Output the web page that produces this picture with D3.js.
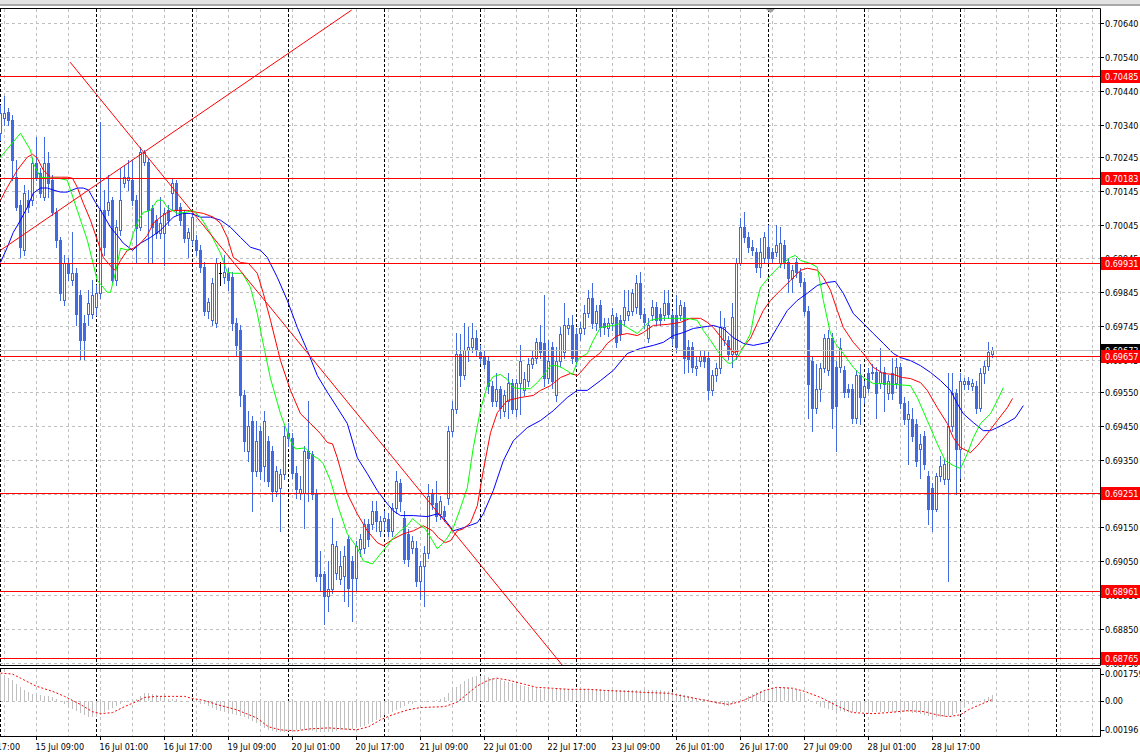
<!DOCTYPE html>
<html><head><meta charset="utf-8">
<script src="https://cdn.jsdelivr.net/npm/d3@7/dist/d3.min.js"></script>
<style>
html,body{margin:0;padding:0;background:#fff;}
svg{display:block;}
text{font-family:"DejaVu Sans Condensed","Liberation Sans",Arial,sans-serif;font-size:9px;}
</style></head><body>
<svg id="chart" width="1140" height="756"></svg>
<script>
// ---------------- DATA (H1 bars, bar 0 = 15 Jul 00:00) ----------------
const opens=[0.70315,0.70360,0.70377,0.70354,0.70185,0.70102,0.69969,0.70117,0.70117,0.70226,
0.70197,0.70126,0.70226,0.70176,0.70081,0.69999,0.69821,0.69930,0.69880,0.69901,
0.69836,0.69753,0.69782,0.69782,0.69800,0.69842,0.70087,0.70087,0.70117,0.69880,
0.70028,0.70167,0.70176,0.70176,0.70117,0.70037,0.70229,0.70229,0.70093,0.70058,
0.70019,0.70019,0.70087,0.70138,0.70167,0.70096,0.70078,0.70004,0.69999,0.69999,
0.69969,0.69919,0.69791,0.69762,0.69753,0.69901,0.69889,0.69901,0.69889,0.69753,
0.69732,0.69540,0.69377,0.69466,0.69318,0.69436,0.69333,0.69406,0.69377,0.69259,
0.69267,0.69309,0.69430,0.69415,0.69312,0.69253,0.69253,0.69377,0.69368,0.69253,
0.69013,0.69013,0.68948,0.68968,0.69016,0.68998,0.69007,0.69116,0.69051,0.69001,
0.69087,0.69090,0.69161,0.69161,0.69199,0.69140,0.69170,0.69176,0.69140,0.69208,
0.69282,0.69179,0.69131,0.69090,0.69090,0.68992,0.69037,0.69075,0.69250,0.69223,
0.69190,0.69199,0.69238,0.69436,0.69501,0.69664,0.69599,0.69673,0.69682,0.69711,
0.69667,0.69658,0.69643,0.69569,0.69525,0.69560,0.69495,0.69525,0.69578,0.69501,
0.69578,0.69555,0.69584,0.69634,0.69652,0.69697,0.69694,0.69593,0.69682,0.69540,
0.69643,0.69667,0.69738,0.69747,0.69723,0.69726,0.69738,0.69785,0.69827,0.69753,
0.69806,0.69753,0.69738,0.69753,0.69771,0.69762,0.69762,0.69777,0.69791,0.69800,
0.69871,0.69782,0.69711,0.69777,0.69800,0.69782,0.69777,0.69812,0.69777,0.69777,
0.69777,0.69800,0.69682,0.69682,0.69620,0.69643,0.69658,0.69652,0.69555,0.69599,
0.69620,0.69703,0.69703,0.69664,0.69664,0.69930,0.70037,0.70007,0.69978,0.69963,
0.69919,0.69945,0.69978,0.69963,0.69963,0.69930,0.69984,0.69933,0.69886,0.69933,
0.69904,0.69874,0.69791,0.69643,0.69504,0.69560,0.69620,0.69614,0.69711,0.69623,
0.69623,0.69614,0.69560,0.69560,0.69474,0.69599,0.69534,0.69605,0.69605,0.69608,
0.69578,0.69608,0.69546,0.69605,0.69578,0.69623,0.69519,0.69471,0.69471,0.69457,
0.69382,0.69421,0.69303,0.69267,0.69205,0.69303,0.69294,0.69294,0.69451,0.69546,
0.69382,0.69575,0.69584,0.69569,0.69569,0.69504,0.69605,0.69628,0.69664];
const highs=[0.70398,0.70425,0.70389,0.70369,0.70235,0.70117,0.70161,0.70147,0.70241,0.70303,
0.70212,0.70303,0.70259,0.70191,0.70093,0.70007,0.69954,0.69945,0.70022,0.69916,
0.69851,0.69777,0.69851,0.69880,0.69865,0.70348,0.70147,0.70191,0.70126,0.70058,
0.70212,0.70221,0.70235,0.70235,0.70132,0.70274,0.70265,0.70241,0.70102,0.70073,
0.70126,0.70093,0.70102,0.70182,0.70176,0.70108,0.70087,0.70034,0.70078,0.70013,
0.69984,0.69933,0.69827,0.69886,0.69945,0.69933,0.69954,0.69916,0.69904,0.69768,
0.69747,0.69555,0.69495,0.69480,0.69466,0.69451,0.69495,0.69421,0.69391,0.69333,
0.69324,0.69451,0.69460,0.69430,0.69333,0.69303,0.69391,0.69525,0.69377,0.69264,
0.69081,0.69022,0.69051,0.69179,0.69111,0.69081,0.69096,0.69125,0.69066,0.69111,
0.69131,0.69176,0.69176,0.69229,0.69229,0.69185,0.69199,0.69193,0.69223,0.69318,
0.69294,0.69199,0.69146,0.69125,0.69111,0.69051,0.69096,0.69279,0.69264,0.69288,
0.69244,0.69214,0.69451,0.69525,0.69726,0.69723,0.69753,0.69741,0.69753,0.69732,
0.69688,0.69673,0.69658,0.69584,0.69605,0.69569,0.69555,0.69605,0.69590,0.69590,
0.69688,0.69608,0.69652,0.69673,0.69711,0.69747,0.69836,0.69703,0.69697,0.69682,
0.69741,0.69812,0.69768,0.69777,0.69738,0.69756,0.69806,0.69851,0.69871,0.69806,
0.69821,0.69768,0.69768,0.69797,0.69785,0.69777,0.69851,0.69851,0.69856,0.69895,
0.69904,0.69797,0.69768,0.69821,0.69815,0.69797,0.69851,0.69851,0.69791,0.69836,
0.69821,0.69815,0.69703,0.69697,0.69658,0.69673,0.69673,0.69667,0.69614,0.69637,
0.69791,0.69768,0.69717,0.69812,0.69945,0.70064,0.70081,0.70022,0.69999,0.69975,
0.70004,0.70022,0.70043,0.69975,0.70043,0.70037,0.69999,0.69945,0.69925,0.69945,
0.69916,0.69886,0.69803,0.69658,0.69634,0.69637,0.69723,0.69732,0.69726,0.69643,
0.69711,0.69628,0.69575,0.69575,0.69614,0.69634,0.69584,0.69620,0.69634,0.69623,
0.69679,0.69623,0.69599,0.69652,0.69652,0.69637,0.69534,0.69525,0.69504,0.69471,
0.69427,0.69436,0.69318,0.69282,0.69312,0.69362,0.69353,0.69605,0.69605,0.69560,
0.69605,0.69593,0.69596,0.69590,0.69584,0.69620,0.69643,0.69697,0.69682];
const lows=[0.70295,0.70339,0.70339,0.70176,0.70087,0.69948,0.69954,0.70081,0.70102,0.70176,
0.70126,0.70117,0.70126,0.70073,0.69978,0.69821,0.69806,0.69880,0.69865,0.69747,
0.69649,0.69649,0.69747,0.69768,0.69777,0.69827,0.69954,0.70073,0.69874,0.69865,
0.70013,0.70155,0.70147,0.70102,0.69933,0.70028,0.70221,0.69930,0.69930,0.70004,
0.70004,0.69925,0.70043,0.70087,0.70073,0.70043,0.69993,0.69948,0.69984,0.69954,
0.69904,0.69777,0.69768,0.69747,0.69741,0.69865,0.69871,0.69851,0.69732,0.69658,
0.69510,0.69377,0.69347,0.69199,0.69303,0.69294,0.69288,0.69273,0.69229,0.69244,
0.69140,0.69294,0.69391,0.69297,0.69238,0.69235,0.69149,0.69229,0.69235,0.68992,
0.68962,0.68865,0.68903,0.68957,0.68998,0.68983,0.68933,0.68918,0.68874,0.68962,
0.69066,0.69075,0.69096,0.69146,0.69140,0.69125,0.69146,0.69125,0.69125,0.69193,
0.69199,0.69045,0.69037,0.69075,0.68977,0.68939,0.68918,0.69060,0.69205,0.69170,
0.69176,0.69170,0.69220,0.69421,0.69489,0.69569,0.69590,0.69643,0.69667,0.69658,
0.69637,0.69620,0.69546,0.69510,0.69510,0.69474,0.69480,0.69474,0.69489,0.69480,
0.69486,0.69540,0.69569,0.69620,0.69637,0.69652,0.69569,0.69578,0.69563,0.69525,
0.69628,0.69652,0.69723,0.69637,0.69628,0.69703,0.69723,0.69771,0.69738,0.69732,
0.69717,0.69723,0.69717,0.69732,0.69682,0.69703,0.69747,0.69762,0.69777,0.69785,
0.69768,0.69738,0.69697,0.69762,0.69747,0.69747,0.69762,0.69768,0.69688,0.69667,
0.69762,0.69605,0.69608,0.69608,0.69599,0.69628,0.69623,0.69531,0.69540,0.69584,
0.69605,0.69688,0.69649,0.69623,0.69649,0.69925,0.69993,0.69963,0.69954,0.69904,
0.69889,0.69933,0.69933,0.69930,0.69951,0.69919,0.69916,0.69845,0.69845,0.69889,
0.69862,0.69777,0.69474,0.69436,0.69489,0.69525,0.69608,0.69599,0.69445,0.69377,
0.69608,0.69534,0.69534,0.69460,0.69460,0.69457,0.69519,0.69549,0.69590,0.69474,
0.69563,0.69495,0.69531,0.69531,0.69563,0.69504,0.69457,0.69338,0.69406,0.69333,
0.69297,0.69324,0.69161,0.69140,0.69199,0.69288,0.69279,0.68992,0.69436,0.69250,
0.69297,0.69560,0.69560,0.69555,0.69489,0.69495,0.69578,0.69614,0.69655];
const closes=[0.70374,0.70374,0.70354,0.70235,0.70096,0.69978,0.70138,0.70096,0.70226,0.70185,
0.70138,0.70226,0.70167,0.70081,0.69999,0.69842,0.69930,0.69901,0.69901,0.69782,
0.69703,0.69703,0.69812,0.69836,0.69842,0.70087,0.69978,0.70111,0.69880,0.70037,
0.70117,0.70185,0.70185,0.70117,0.70034,0.70259,0.70259,0.70087,0.70037,0.70019,
0.70049,0.70078,0.70058,0.70167,0.70087,0.70058,0.70004,0.70022,0.70067,0.69969,
0.69919,0.69791,0.69815,0.69871,0.69930,0.69901,0.69904,0.69880,0.69753,0.69688,
0.69540,0.69406,0.69451,0.69318,0.69406,0.69318,0.69466,0.69288,0.69259,0.69318,
0.69309,0.69421,0.69415,0.69312,0.69264,0.69264,0.69377,0.69356,0.69250,0.69007,
0.69007,0.68948,0.68968,0.69102,0.69096,0.69037,0.69066,0.68971,0.69001,0.69096,
0.69116,0.69161,0.69116,0.69199,0.69170,0.69170,0.69179,0.69140,0.69208,0.69288,
0.69229,0.69057,0.69057,0.69111,0.68992,0.69037,0.69075,0.69244,0.69220,0.69185,
0.69229,0.69185,0.69436,0.69501,0.69664,0.69599,0.69673,0.69682,0.69711,0.69673,
0.69652,0.69634,0.69569,0.69525,0.69560,0.69504,0.69540,0.69578,0.69501,0.69578,
0.69643,0.69590,0.69634,0.69652,0.69697,0.69667,0.69593,0.69643,0.69584,0.69643,
0.69723,0.69747,0.69747,0.69652,0.69643,0.69738,0.69785,0.69827,0.69753,0.69791,
0.69741,0.69741,0.69753,0.69777,0.69697,0.69723,0.69800,0.69791,0.69842,0.69871,
0.69782,0.69756,0.69747,0.69800,0.69762,0.69762,0.69812,0.69782,0.69711,0.69682,
0.69806,0.69652,0.69649,0.69623,0.69628,0.69658,0.69643,0.69555,0.69599,0.69620,
0.69741,0.69741,0.69664,0.69771,0.69930,0.70037,0.70007,0.69978,0.69969,0.69919,
0.69963,0.70007,0.69945,0.69945,0.69984,0.69990,0.69930,0.69886,0.69910,0.69904,
0.69874,0.69791,0.69575,0.69504,0.69560,0.69620,0.69711,0.69711,0.69504,0.69510,
0.69679,0.69549,0.69549,0.69474,0.69599,0.69534,0.69569,0.69563,0.69608,0.69546,
0.69608,0.69575,0.69584,0.69546,0.69623,0.69519,0.69471,0.69486,0.69421,0.69347,
0.69397,0.69338,0.69205,0.69205,0.69303,0.69333,0.69338,0.69451,0.69546,0.69382,
0.69584,0.69584,0.69575,0.69578,0.69504,0.69605,0.69628,0.69667,0.69673];

// Alligator-style moving averages, read as [bar, price]
const lipsGreen=[[0,0.70244],[5,0.70315],[7.5,0.70265],[8.2,0.70226],[10,0.70185],[12.5,0.70182],[14.5,0.70182],[16.7,0.70176],[17.5,0.70147],[19.2,0.70087],[21.7,0.69999],[24.2,0.69880],[26.7,0.69845],[27.5,0.69845],[28.7,0.69901],[30,0.69975],[32,0.69969],[33.2,0.70019],[34.5,0.70058],[35.7,0.70081],[37.5,0.70087],[39.2,0.70117],[40.5,0.70117],[41.7,0.70096],[44.2,0.70078],[46.2,0.70081],[48,0.70087],[50,0.70067],[52.5,0.70019],[55,0.69960],[56.7,0.69904],[58.2,0.69901],[60.5,0.69901],[62.5,0.69859],[64.2,0.69782],[65.5,0.69703],[67.5,0.69590],[70,0.69486],[72.5,0.69406],[73.7,0.69382],[76.2,0.69385],[78,0.69362],[79.5,0.69353],[80.7,0.69338],[82.5,0.69288],[84.5,0.69208],[86.7,0.69131],[89.2,0.69090],[90.7,0.69051],[93,0.69042],[95,0.69072],[96.7,0.69096],[98.2,0.69119],[100,0.69140],[101.7,0.69155],[103,0.69176],[104.5,0.69161],[106.2,0.69146],[108,0.69111],[109.2,0.69087],[110.5,0.69102],[111.7,0.69119],[113.2,0.69149],[115,0.69208],[116.7,0.69267],[118.2,0.69386],[120,0.69498],[121.7,0.69569],[123.2,0.69596],[125,0.69602],[126.7,0.69587],[128.2,0.69563],[130,0.69560],[132.5,0.69560],[134.2,0.69578],[135.7,0.69599],[137.5,0.69628],[139.2,0.69628],[140.7,0.69620],[143,0.69602],[144.5,0.69649],[146.7,0.69664],[148.2,0.69703],[150,0.69741],[153.2,0.69747],[155,0.69753],[156.7,0.69741],[159.2,0.69723],[160.7,0.69741],[162.5,0.69762],[165,0.69768],[168.2,0.69768],[171.7,0.69768],[174.2,0.69762],[175.7,0.69732],[177.5,0.69703],[179.5,0.69667],[181.7,0.69637],[182.5,0.69634],[184.2,0.69652],[185.7,0.69682],[187.5,0.69723],[188.7,0.69800],[190,0.69859],[192.5,0.69895],[195,0.69925],[197.5,0.69948],[198.7,0.69954],[200,0.69939],[202.5,0.69930],[204.2,0.69919],[205.7,0.69821],[207.5,0.69723],[208.7,0.69694],[210.7,0.69664],[213.2,0.69623],[215.7,0.69593],[218.2,0.69575],[220.7,0.69575],[224.2,0.69572],[227.5,0.69569],[229.2,0.69534],[231.7,0.69466],[234.2,0.69397],[236.2,0.69347],[238.2,0.69333],[240,0.69324],[241.7,0.69368],[243.2,0.69415],[245,0.69457],[247.5,0.69486],[249.2,0.69525],[250.7,0.69563]];
const teethRed=[[0,0.70117],[1.7,0.70155],[4.2,0.70206],[6.7,0.70244],[8,0.70253],[9.2,0.70241],[10.7,0.70206],[12.5,0.70185],[15,0.70185],[16.7,0.70185],[18,0.70182],[19.2,0.70155],[20.7,0.70108],[22.5,0.70058],[24.2,0.69999],[25.7,0.69948],[28,0.69916],[28.7,0.69910],[30,0.69939],[31.7,0.69969],[33.2,0.69975],[35,0.69990],[36.7,0.70013],[38.2,0.70049],[40,0.70067],[41.7,0.70081],[43.2,0.70087],[46.7,0.70087],[49.2,0.70081],[50.7,0.70078],[53.2,0.70067],[55,0.70049],[56.7,0.70007],[58.2,0.69948],[60,0.69933],[62,0.69930],[64.2,0.69901],[65.7,0.69842],[67.5,0.69762],[70,0.69643],[72.5,0.69555],[75,0.69486],[77.5,0.69457],[80,0.69427],[81.7,0.69401],[83,0.69397],[84.2,0.69356],[86.7,0.69250],[89.2,0.69190],[91.7,0.69140],[94.2,0.69105],[95.7,0.69096],[98.2,0.69116],[100.7,0.69131],[103.2,0.69140],[105.7,0.69155],[108,0.69140],[109.5,0.69119],[111.2,0.69105],[112.5,0.69111],[114.2,0.69140],[115.7,0.69146],[117.5,0.69164],[119.2,0.69214],[120.7,0.69318],[122.5,0.69430],[124.2,0.69489],[126.7,0.69525],[130,0.69534],[133.2,0.69540],[135,0.69555],[137.5,0.69569],[140,0.69593],[142.5,0.69605],[144.2,0.69599],[145,0.69608],[147.5,0.69643],[150,0.69667],[151.7,0.69694],[154.2,0.69717],[156.7,0.69723],[159.2,0.69717],[160.7,0.69726],[163.2,0.69747],[166.7,0.69750],[170,0.69756],[172.5,0.69768],[175,0.69768],[176.7,0.69756],[178.2,0.69741],[180.7,0.69703],[183.2,0.69667],[185,0.69673],[187.5,0.69709],[189.2,0.69753],[190.7,0.69791],[192.5,0.69821],[195,0.69851],[197.5,0.69880],[200,0.69910],[201.7,0.69916],[204.2,0.69910],[205.7,0.69889],[207.5,0.69851],[209.2,0.69791],[210.7,0.69741],[213.2,0.69697],[215.7,0.69664],[218.2,0.69623],[220.7,0.69605],[223.2,0.69602],[225.5,0.69593],[227.5,0.69590],[230,0.69578],[231.7,0.69555],[234.2,0.69504],[236.7,0.69457],[238.2,0.69415],[240,0.69386],[242.5,0.69371],[244.2,0.69391],[246.7,0.69427],[249.2,0.69466],[251.7,0.69504],[253,0.69531]];
const jawBlue=[[0,0.69933],[1.7,0.69978],[3.2,0.70022],[5,0.70058],[6.7,0.70096],[8.2,0.70138],[10,0.70153],[11.7,0.70153],[13.2,0.70147],[15,0.70141],[16.7,0.70141],[19.2,0.70153],[20.7,0.70153],[22,0.70147],[23.7,0.70111],[25.5,0.70078],[27.5,0.70037],[29.2,0.70013],[30.7,0.69990],[33,0.69969],[35,0.69990],[37.5,0.70007],[40,0.70028],[41.7,0.70049],[43.2,0.70067],[45.5,0.70078],[47.5,0.70078],[50,0.70067],[52.5,0.70067],[55,0.70058],[57.5,0.70037],[60,0.70007],[62.5,0.69978],[65,0.69969],[66.7,0.69948],[69.2,0.69889],[71.7,0.69821],[74.2,0.69741],[76.7,0.69673],[79.2,0.69599],[81.7,0.69550],[84.2,0.69504],[86.7,0.69457],[89.2,0.69356],[91.7,0.69309],[94.2,0.69259],[96.7,0.69220],[98.2,0.69199],[100,0.69185],[103.2,0.69185],[106.7,0.69182],[109.2,0.69190],[110.7,0.69179],[113.2,0.69140],[115.7,0.69149],[119.2,0.69164],[120.7,0.69190],[123.2,0.69259],[125.7,0.69347],[128.2,0.69406],[131.7,0.69445],[135,0.69466],[138.2,0.69495],[141.7,0.69534],[144.2,0.69555],[146.7,0.69555],[150,0.69584],[153.2,0.69614],[156.7,0.69664],[160,0.69679],[163.2,0.69688],[165.7,0.69697],[168.2,0.69717],[170.7,0.69726],[173.2,0.69738],[176.7,0.69744],[178.2,0.69747],[180.7,0.69738],[183.2,0.69711],[185.7,0.69694],[188.2,0.69688],[192,0.69697],[194.2,0.69741],[196.7,0.69791],[199.2,0.69821],[201.7,0.69842],[204.2,0.69865],[206.7,0.69874],[208.7,0.69877],[210.7,0.69842],[213.2,0.69782],[215.7,0.69753],[218.2,0.69723],[220.7,0.69694],[223.2,0.69664],[225,0.69652],[227.5,0.69643],[230,0.69628],[232.5,0.69608],[235,0.69584],[237.5,0.69555],[239.2,0.69516],[240.7,0.69486],[243.2,0.69460],[245.7,0.69436],[247.5,0.69436],[249.2,0.69445],[251.7,0.69460],[253.7,0.69474],[255.7,0.69510]];

// Drawn objects
const levelPrices=[0.70485,0.70183,0.69931,0.69657,0.69251,0.68961,0.68765];
const bidPrice=0.69673;
const trendUp=[[0,0.69969],[87.8,0.70679]];
const trendDown=[[17.4,0.70525],[141,0.68735]];

// MACD (histogram + signal)
const macdHist=[0.00148,0.00136,0.00125,0.00114,0.00091,0.00074,0.00057,0.00046,0.00035,0.00029,
0.00029,0.00024,0.00024,0.00018,0.00012,0.00001,-0.00016,-0.00033,-0.00044,-0.00055,
-0.00066,-0.00078,-0.00089,-0.00089,-0.00089,-0.00078,-0.00061,-0.0005,-0.00038,-0.00027,
-0.00021,-0.0001,-0.00005,0.00001,0.00012,0.00024,0.00041,0.00041,0.00035,0.00029,
0.00024,0.00018,0.00012,0.00007,0.00007,0.00001,-0.00001,-0.00002,-0.00005,-0.0001,
-0.00016,-0.00021,-0.00027,-0.00038,-0.0005,-0.00055,-0.00061,-0.00066,-0.00072,-0.00078,
-0.00083,-0.00089,-0.001,-0.00112,-0.00123,-0.0014,-0.00151,-0.00162,-0.00168,-0.00174,
-0.00174,-0.00174,-0.00168,-0.00168,-0.00162,-0.00162,-0.00162,-0.00168,-0.00168,-0.00174,
-0.00174,-0.00174,-0.00174,-0.00174,-0.00168,-0.00162,-0.00162,-0.00162,-0.00157,-0.00151,
-0.00145,-0.0014,-0.00128,-0.00117,-0.00106,-0.00095,-0.00078,-0.00066,-0.00061,-0.0005,
-0.00038,-0.00027,-0.00021,-0.00016,-0.0001,-0.00005,-0.00005,-0.00002,0.00001,0.00002,
0.00007,0.00018,0.00041,0.00057,0.00074,0.00091,0.00108,0.00119,0.00131,0.00136,
0.00136,0.00131,0.00131,0.00125,0.00119,0.00114,0.00108,0.00103,0.00097,0.00091,
0.00086,0.0008,0.00074,0.00074,0.00069,0.00063,0.00063,0.00063,0.00063,0.00063,
0.00063,0.00063,0.00063,0.00063,0.00063,0.00063,0.00063,0.00063,0.00063,0.00063,
0.00063,0.00057,0.00057,0.00057,0.00057,0.00057,0.00057,0.00057,0.00057,0.00057,
0.00057,0.00057,0.00057,0.00057,0.00057,0.00057,0.00052,0.00052,0.00046,0.00041,
0.00035,0.00029,0.00024,0.00018,0.00012,0.00007,0.00007,0.00001,-0.0001,-0.00016,
-0.00021,-0.00027,-0.00027,-0.00021,-0.0001,0.00001,0.00012,0.00024,0.00035,0.00046,
0.00052,0.00057,0.00063,0.00069,0.00069,0.00069,0.00069,0.00069,0.00063,0.00057,
0.00046,0.00024,0.00007,-0.0001,-0.00021,-0.00033,-0.00038,-0.00044,-0.0005,-0.00055,
-0.00055,-0.00061,-0.00061,-0.00061,-0.00061,-0.00061,-0.00061,-0.00061,-0.00061,-0.00061,
-0.00061,-0.00061,-0.00061,-0.00061,-0.00061,-0.00061,-0.00061,-0.00061,-0.00066,-0.00066,
-0.00072,-0.00078,-0.00083,-0.00089,-0.00089,-0.00089,-0.00089,-0.00083,-0.00078,-0.00066,
-0.0005,-0.00033,-0.00021,-0.00016,-0.00005,0.00001,0.00007,0.00018,0.00029];
const macdSignal=[[0,0.00153],[3,0.00148],[5,0.00125],[9,0.0008],[13,0.00052],[16,0.00024],[20,-0.00021],[23,-0.00061],[25,-0.00072],[28,-0.00066],[31,-0.00033],[34,-0.00005],[36,0.00018],[39,0.00024],[43,0.00024],[46,0.00024],[48,0.00012],[51,0.00001],[54,-0.00021],[59,-0.0005],[64,-0.00095],[67,-0.00145],[70,-0.00162],[74,-0.00168],[77,-0.00157],[82,-0.00151],[86,-0.00157],[89,-0.00162],[92,-0.00145],[95,-0.00106],[98,-0.00078],[102,-0.0005],[105,-0.00038],[111,-0.00033],[114,-0.0001],[116,0.00024],[119,0.0008],[122,0.00114],[124,0.00125],[127,0.00114],[131,0.00091],[134,0.00074],[138,0.00069],[142,0.00063],[147,0.00063],[151,0.00057],[156,0.00052],[161,0.00046],[167,0.00041],[171,0.00024],[175,0.00007],[179,-0.0001],[182,-0.00021],[185,-0.00005],[188,0.00024],[191,0.00057],[194,0.00074],[198,0.00069],[201,0.00052],[205,0.00018],[210,-0.00038],[213,-0.00066],[218,-0.00072],[222,-0.00066],[227,-0.00055],[231,-0.00061],[234,-0.00078],[237,-0.00089],[240,-0.00078],[242,-0.0005],[245,-0.00021],[248,0.00007]];

// Axis labels
const priceTickLabels=["0.70640","0.70540","0.70440","0.70340","0.70245","0.70145","0.70045","0.69945","0.69845","0.69745","0.69645","0.69550","0.69450","0.69350","0.69250","0.69150","0.69050","0.68950","0.68850","0.68750"];
const macdAxisLabels=["0.001759","0.00","-0.00196"];
const timeLabels=["14 Jul 17:00","15 Jul 09:00","16 Jul 01:00","16 Jul 17:00","19 Jul 09:00","20 Jul 01:00","20 Jul 17:00","21 Jul 09:00","22 Jul 01:00","22 Jul 17:00","23 Jul 09:00","26 Jul 01:00","26 Jul 17:00","27 Jul 09:00","28 Jul 01:00","28 Jul 17:00"];
const timeLabelBars=[-7,9,25,41,57,73,89,105,121,137,153,169,185,201,217,233];

// ---------------- DRAWING ----------------
const svg=d3.select("#chart");
const x=d3.scaleLinear().domain([0,274]).range([0.5,1096.5]);
const y=d3.scaleLinear().domain([0.68742,0.70685]).range([665.5,8]);
const ym=d3.scaleLinear().domain([-0.00196,0.001759]).range([736,669]);
const px=v=>Math.round(v)+0.5;
const BLUE="#4169e1";

svg.append("rect").attr("width",1140).attr("height",756).attr("fill","#fff");
svg.append("rect").attr("x",0).attr("y",0).attr("width",1140).attr("height",4).attr("fill","#e2e2e2");
svg.append("rect").attr("x",0).attr("y",4).attr("width",1140).attr("height",2).attr("fill","#a9a9a9");

const defs=svg.append("defs");
defs.append("clipPath").attr("id","cm").append("rect").attr("x",0).attr("y",9).attr("width",1100).attr("height",656);
defs.append("clipPath").attr("id","cd").append("rect").attr("x",0).attr("y",669).attr("width",1100).attr("height",67);
const gMain=svg.append("g").attr("clip-path","url(#cm)");
const gMacd=svg.append("g").attr("clip-path","url(#cd)");

// horizontal grid
gMain.selectAll(".hg").data(priceTickLabels).join("line")
  .attr("x1",0).attr("x2",1100).attr("y1",d=>px(y(+d))).attr("y2",d=>px(y(+d)))
  .attr("stroke","#c0c0c0").attr("stroke-dasharray","3,3");
gMacd.append("line").attr("x1",0).attr("x2",1100).attr("y1",px(ym(0))).attr("y2",px(ym(0)))
  .attr("stroke","#c0c0c0").attr("stroke-dasharray","3,3");

// vertical grid + day separators
const gridBars=d3.range(1,274,8);
const sepBars=d3.range(0,265,24);
[[gMain,9,665],[gMacd,669,736]].forEach(([g,y1,y2])=>{
  g.selectAll(".vg").data(gridBars).join("line").attr("x1",d=>x(d)).attr("x2",d=>x(d))
    .attr("y1",y1).attr("y2",y2).attr("stroke","#c0c0c0").attr("stroke-dasharray","3,3");
  g.selectAll(".vs").data(sepBars).join("line").attr("x1",d=>x(d)).attr("x2",d=>x(d))
    .attr("y1",y1).attr("y2",y2).attr("stroke","#000").attr("stroke-dasharray","3,2");
});

// candles
const cg=gMain.append("g");
opens.forEach((o,i)=>{
  const h=highs[i],l=lows[i],c=closes[i];
  const cx=x(i);
  const doji=o===c;
  const col=doji?"#000":BLUE;
  cg.append("line").attr("x1",cx).attr("x2",cx)
    .attr("y1",Math.round(y(h))).attr("y2",Math.round(y(l))+1).attr("stroke",col);
  const top=Math.round(y(Math.max(o,c))),bot=Math.round(y(Math.min(o,c)));
  if(doji){
    cg.append("line").attr("x1",cx-1.5).attr("x2",cx+1.5).attr("y1",top+0.5).attr("y2",top+0.5).attr("stroke","#000");
  }else if(c>o){
    cg.append("rect").attr("x",cx-1).attr("y",top+0.5).attr("width",2).attr("height",Math.max(bot-top,1))
      .attr("fill","#fff").attr("stroke",col);
  }else{
    cg.append("rect").attr("x",cx-1.5).attr("y",top).attr("width",3).attr("height",Math.max(bot-top+1,1)).attr("fill",col);
  }
});

// moving averages
const ln=d3.line().x(d=>x(d[0])).y(d=>y(d[1]));
gMain.append("path").attr("d",ln(jawBlue)).attr("fill","none").attr("stroke","#0000ff");
gMain.append("path").attr("d",ln(teethRed)).attr("fill","none").attr("stroke","#ff0000");
gMain.append("path").attr("d",ln(lipsGreen)).attr("fill","none").attr("stroke","#00ff00");

// objects
gMain.append("line").attr("x1",0).attr("x2",1100).attr("y1",px(y(bidPrice))).attr("y2",px(y(bidPrice))).attr("stroke","#c0c0c0");
gMain.selectAll(".lv").data(levelPrices).join("line")
  .attr("x1",0).attr("x2",1100).attr("y1",d=>px(y(d))).attr("y2",d=>px(y(d))).attr("stroke","#ff0000");
[trendUp,trendDown].forEach(t=>{
  gMain.append("path").attr("d",ln(t)).attr("fill","none").attr("stroke","#ff0000");
});

// MACD
gMacd.selectAll(".hb").data(macdHist).join("line")
  .attr("x1",(d,i)=>x(i)).attr("x2",(d,i)=>x(i))
  .attr("y1",Math.round(ym(0))).attr("y2",d=>Math.round(ym(d)))
  .attr("stroke","#c0c0c0");
gMacd.append("path").attr("d",d3.line().x(d=>x(d[0])).y(d=>ym(d[1]))(macdSignal))
  .attr("fill","none").attr("stroke","#ff0000").attr("stroke-dasharray","2,2");

// borders
const bd=svg.append("g").attr("stroke","#000").attr("fill","none");
bd.append("path").attr("d","M0,8.5H1100.5V665.5H0");
bd.append("path").attr("d","M0,668.5H1100.5V736.5H0");

// shift marker
svg.append("path").attr("d","M766,9L775,9L770.5,13Z").attr("fill","#a0a0a0");

// price axis
const ax=svg.append("g");
priceTickLabels.forEach(t=>{
  const yy=px(y(+t));
  ax.append("line").attr("x1",1100).attr("x2",1104).attr("y1",yy).attr("y2",yy).attr("stroke","#000");
  ax.append("text").attr("x",1105).attr("y",yy).attr("dy","0.35em").text(t);
});
// bid label
{
  const yy=Math.round(y(bidPrice));
  ax.append("rect").attr("x",1101).attr("y",yy-6).attr("width",39).attr("height",13).attr("fill","#000");
  ax.append("text").attr("x",1105).attr("y",yy+0.5).attr("dy","0.35em").attr("fill","#fff").text(bidPrice.toFixed(5));
}
levelPrices.forEach(p=>{
  const yy=Math.round(y(p));
  ax.append("rect").attr("x",1101).attr("y",yy-6).attr("width",39).attr("height",13).attr("fill","#ff0000");
  ax.append("text").attr("x",1105).attr("y",yy+0.5).attr("dy","0.35em").attr("fill","#fff").text(p.toFixed(5));
});

// MACD axis
const macdVals=macdAxisLabels.map(Number);
macdAxisLabels.forEach((t,k)=>{
  let yy=ym(macdVals[k]);
  if(k===0) yy+=4.5; if(k===2) yy-=6;
  ax.append("line").attr("x1",1100).attr("x2",1104).attr("y1",px(yy)).attr("y2",px(yy)).attr("stroke","#000");
  ax.append("text").attr("x",t.startsWith("-")?1102:1105).attr("y",yy).attr("dy","0.35em").text(t);
});

// time axis
timeLabels.forEach((t,k)=>{
  const xx=x(timeLabelBars[k]);
  ax.append("line").attr("x1",xx).attr("x2",xx).attr("y1",737).attr("y2",740).attr("stroke","#000");
  ax.append("text").attr("x",xx-1).attr("y",750).text(t);
});
</script>
</body></html>
